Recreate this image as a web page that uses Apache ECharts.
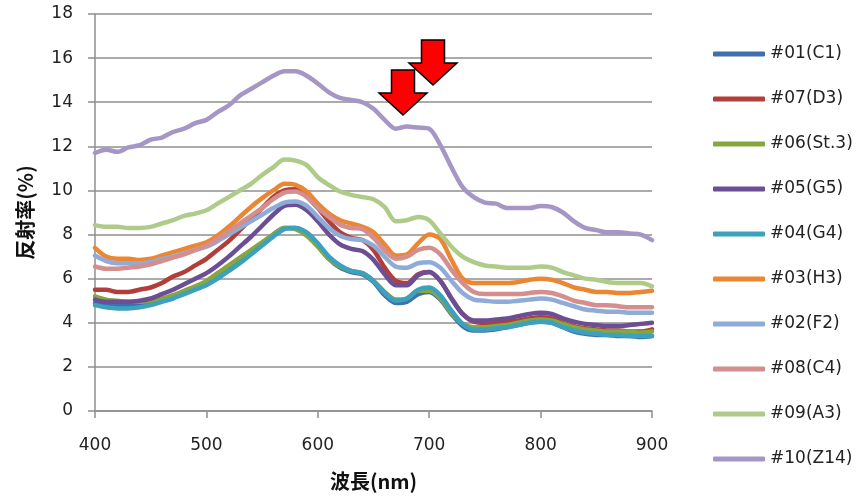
<!DOCTYPE html>
<html>
<head>
<meta charset="utf-8">
<script src="https://cdn.jsdelivr.net/npm/echarts@6/dist/echarts.min.js"></script>
<style>
  html, body { margin: 0; padding: 0; background: #fff; }
  #chart { width: 856px; height: 498px; }
</style>
</head>
<body>
<div id="chart"></div>
<script>
// wavelength samples, 400..900 nm every 10 nm
const WAVELENGTHS = [400,410,420,430,440,450,460,470,480,490,500,510,520,530,540,550,560,570,580,590,600,610,620,630,640,650,660,670,680,690,700,710,720,730,740,750,760,770,780,790,800,810,820,830,840,850,860,870,880,890,900];

const NAMES = ['#01(C1)', '#07(D3)', '#06(St.3)', '#05(G5)', '#04(G4)', '#03(H3)', '#02(F2)', '#08(C4)', '#09(A3)', '#10(Z14)'];
const COLORS = ['#3F6FAE', '#B23E3B', '#86A640', '#6B4E93', '#3BA1BE', '#EB8633', '#8FABD8', '#D38E8D', '#AECB8A', '#A696C6'];

// reflectance (%)
const C1  = [4.9,4.8,4.75,4.75,4.8,4.9,5.05,5.2,5.4,5.6,5.8,6.1,6.45,6.8,7.2,7.6,8.0,8.3,8.3,8.05,7.5,6.9,6.5,6.3,6.2,5.85,5.25,4.9,4.95,5.3,5.4,5.05,4.4,3.85,3.65,3.65,3.7,3.8,3.9,4.0,4.05,4.0,3.8,3.6,3.5,3.45,3.45,3.4,3.4,3.35,3.4];
const D3  = [5.5,5.5,5.4,5.4,5.5,5.6,5.8,6.1,6.3,6.6,6.9,7.3,7.7,8.2,8.7,9.2,9.7,10.0,10.05,9.75,9.2,8.6,8.1,7.85,7.75,7.3,6.5,5.9,5.8,6.2,6.3,5.9,5.1,4.4,4.05,4.0,4.0,4.05,4.1,4.2,4.25,4.2,4.0,3.85,3.75,3.7,3.65,3.65,3.6,3.6,3.7];
const ST3 = [5.2,5.05,5.0,4.95,4.95,5.0,5.1,5.25,5.45,5.65,5.9,6.25,6.6,6.95,7.3,7.65,8.0,8.3,8.25,7.95,7.45,6.9,6.55,6.35,6.25,5.9,5.4,5.05,5.1,5.45,5.45,5.1,4.45,3.95,3.8,3.8,3.85,3.9,4.0,4.1,4.15,4.1,3.95,3.8,3.7,3.65,3.6,3.6,3.6,3.55,3.6];
const G5  = [5.05,4.95,4.95,4.95,5.0,5.1,5.3,5.5,5.75,6.0,6.25,6.6,7.0,7.45,7.9,8.4,8.9,9.3,9.35,9.1,8.6,8.0,7.55,7.35,7.25,6.85,6.2,5.7,5.7,6.15,6.3,5.9,5.1,4.4,4.1,4.1,4.15,4.2,4.3,4.4,4.45,4.4,4.2,4.05,3.95,3.9,3.85,3.85,3.9,3.95,4.0];
const G4  = [4.8,4.7,4.65,4.65,4.7,4.8,4.95,5.1,5.3,5.5,5.7,6.0,6.35,6.7,7.1,7.5,7.9,8.25,8.3,8.1,7.6,7.0,6.6,6.35,6.25,5.9,5.35,5.0,5.1,5.5,5.6,5.25,4.55,3.95,3.7,3.7,3.75,3.8,3.9,4.0,4.05,4.0,3.8,3.65,3.55,3.5,3.45,3.45,3.4,3.4,3.4];
const H3  = [7.4,7.0,6.9,6.9,6.85,6.9,7.05,7.2,7.35,7.5,7.65,7.95,8.35,8.8,9.25,9.65,10.0,10.3,10.25,9.95,9.4,8.95,8.65,8.5,8.35,8.1,7.55,7.05,7.1,7.6,8.0,7.8,6.85,6.0,5.8,5.8,5.8,5.8,5.85,5.95,6.0,5.95,5.8,5.6,5.5,5.4,5.4,5.35,5.35,5.4,5.45];
const F2  = [7.05,6.8,6.7,6.7,6.7,6.75,6.9,7.0,7.15,7.3,7.45,7.7,8.0,8.3,8.6,8.9,9.2,9.45,9.5,9.3,8.8,8.3,7.95,7.8,7.75,7.5,7.0,6.55,6.5,6.7,6.75,6.5,5.9,5.35,5.05,5.0,4.95,4.95,5.0,5.05,5.1,5.05,4.9,4.75,4.6,4.55,4.5,4.5,4.45,4.45,4.45];
const C4  = [6.55,6.45,6.45,6.5,6.55,6.65,6.8,6.95,7.1,7.3,7.5,7.8,8.15,8.5,8.85,9.2,9.6,9.9,9.95,9.7,9.2,8.8,8.45,8.3,8.25,7.85,7.3,6.9,7.0,7.3,7.4,7.1,6.4,5.8,5.4,5.3,5.3,5.3,5.3,5.35,5.4,5.35,5.2,5.0,4.9,4.8,4.8,4.75,4.7,4.7,4.7];
const A3  = [8.43,8.35,8.35,8.3,8.3,8.35,8.5,8.65,8.85,8.95,9.1,9.4,9.7,10.0,10.3,10.7,11.05,11.4,11.35,11.15,10.6,10.25,9.95,9.8,9.7,9.6,9.25,8.6,8.65,8.8,8.65,8.05,7.45,7.0,6.75,6.6,6.55,6.5,6.5,6.5,6.55,6.5,6.3,6.15,6.0,5.95,5.85,5.8,5.8,5.8,5.65];
const Z14 = [11.7,11.85,11.75,11.95,12.05,12.3,12.4,12.65,12.8,13.05,13.2,13.55,13.85,14.3,14.6,14.9,15.2,15.4,15.4,15.2,14.85,14.45,14.2,14.1,14.0,13.7,13.2,12.8,12.9,12.85,12.8,12.05,11.05,10.15,9.7,9.45,9.4,9.2,9.2,9.2,9.3,9.25,9.0,8.6,8.3,8.2,8.1,8.1,8.05,8.0,7.75];

const SERIES_DATA = [C1, D3, ST3, G5, G4, H3, F2, C4, A3, Z14];

const Y_MIN = 0, Y_MAX = 18, Y_STEP = 2;
const X_MIN = 400, X_MAX = 900, X_STEP = 100;

const LABEL_FONT = 'DejaVu Sans';
const CJK_FONT = '"Noto Sans CJK JP"';
const GRID_GRAY = '#8f8f8f';

const chart = echarts.init(document.getElementById('chart'), null, { renderer: 'canvas' });

// down arrow outline, pointing at tip (tx, ty)
function arrow(tx, ty) {
  const bw = 11.5, hw = 24, hh = 22, bh = 23;
  return {
    type: 'polygon',
    z: 100,
    shape: { points: [
      [tx - bw, ty - hh - bh], [tx + bw, ty - hh - bh], [tx + bw, ty - hh],
      [tx + hw, ty - hh], [tx, ty], [tx - hw, ty - hh], [tx - bw, ty - hh]
    ] },
    style: { fill: '#FF0000', stroke: '#000', lineWidth: 1.5 }
  };
}

chart.setOption({
  animation: false,
  backgroundColor: '#fff',
  color: COLORS,
  grid: { left: 95, right: 204, top: 14, bottom: 87 },
  legend: {
    orient: 'vertical',
    left: 708,
    top: 39,
    icon: 'roundRect',
    itemWidth: 52,
    itemHeight: 5,
    itemGap: 25,
    textStyle: { fontFamily: LABEL_FONT, fontSize: 17, lineHeight: 20, color: '#222' },
    data: NAMES
  },
  xAxis: {
    type: 'value',
    min: X_MIN, max: X_MAX, interval: X_STEP,
    name: '波長(nm)',
    nameLocation: 'middle',
    nameGap: 60,
    nameTextStyle: { fontFamily: CJK_FONT, fontWeight: 'bold', fontSize: 20, color: '#111' },
    axisLine: { lineStyle: { color: GRID_GRAY, width: 1.5 } },
    axisTick: { show: true, length: 7, lineStyle: { color: GRID_GRAY, width: 1.5 } },
    axisLabel: { fontFamily: LABEL_FONT, fontSize: 17, color: '#222', margin: 26 },
    splitLine: { show: false }
  },
  yAxis: {
    type: 'value',
    min: Y_MIN, max: Y_MAX, interval: Y_STEP,
    name: '反射率(%)',
    nameLocation: 'middle',
    nameGap: 60,
    nameTextStyle: { fontFamily: CJK_FONT, fontWeight: 'bold', fontSize: 20, color: '#111' },
    axisLine: { show: true, lineStyle: { color: GRID_GRAY, width: 1.5 } },
    axisTick: { show: true, length: 7, lineStyle: { color: GRID_GRAY, width: 1.5 } },
    axisLabel: { fontFamily: LABEL_FONT, fontSize: 17, color: '#222', margin: 22 },
    splitLine: { lineStyle: { color: GRID_GRAY, width: 1.5 } }
  },
  series: NAMES.map((name, i) => ({
    name,
    type: 'line',
    symbol: 'none',
    smooth: 0.3,
    lineStyle: { width: 4.5, color: COLORS[i], cap: 'round', join: 'round' },
    itemStyle: { color: COLORS[i] },
    data: WAVELENGTHS.map((w, k) => [w, SERIES_DATA[i][k]])
  })),
  graphic: [arrow(403, 115), arrow(433, 85)]
});

window.addEventListener('resize', () => chart.resize());
</script>
</body>
</html>
